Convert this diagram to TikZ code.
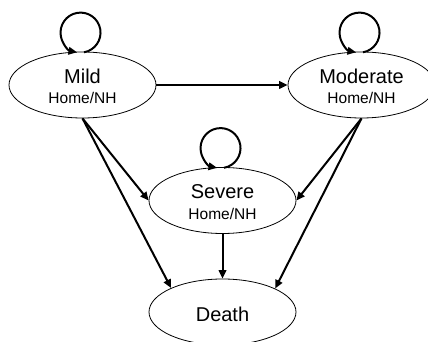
\documentclass[tikz,border=0pt]{standalone}
\usepackage{fontspec}
\setmainfont{Liberation Sans}
\usetikzlibrary{arrows.meta,shapes.geometric}
\newcommand{\mainsz}{\fontsize{20}{24}\selectfont}
\newcommand{\subsz}{\fontsize{15.5}{19}\selectfont}
\begin{document}
\begin{tikzpicture}[x=1pt,y=1pt,
  state/.style={ellipse,draw,line width=0.8pt,minimum width=147pt,minimum height=66pt,inner sep=0pt},
  title/.style={font=\mainsz,inner sep=0pt},
  place/.style={font=\subsz,inner sep=0pt},
  arr/.style={line width=2pt,-{Triangle[length=8.5pt,width=7.5pt]}},
  selfloop/.style={line width=2pt,-{Triangle[length=8.5pt,width=7.5pt]}}]
\useasboundingbox (0,0) rectangle (428,342);
\node[state] (mild) at (82.5,257) {};
\node[state] (moderate) at (361.5,257) {};
\node[state] (severe) at (222.5,141.5) {};
\node[state] (death) at (222.5,30) {};
\node[title,anchor=base] (mildt) at ([yshift=1.5pt]mild.center) {Mild};
\node[place,anchor=base] (mildh) at ([yshift=-19pt]mild.center) {Home/NH};
\node[title,anchor=base] (modt) at ([yshift=1.5pt]moderate.center) {Moderate};
\node[place,anchor=base] (modh) at ([yshift=-19pt]moderate.center) {Home/NH};
\node[title,anchor=base] (sevt) at ([yshift=1.5pt]severe.center) {Severe};
\node[place,anchor=base] (sevh) at ([yshift=-19pt]severe.center) {Home/NH};
\node[title,anchor=base] (deatht) at ([yshift=-9.5pt]death.center) {Death};
\draw[arr] (mild.east) -- (moderate.west);
\draw[arr] (mild.south) -- (severe.west);
\draw[arr] (mild.south) -- (death.155);
\draw[arr] (moderate.south) -- (severe.east);
\draw[arr] (moderate.south) -- (death.24);
\draw[arr] (severe.south) -- (death.north);
\draw[selfloop] (mild.north) ++(1.5,-0.7) arc[start angle=-80,end angle=260,radius=20];
\draw[selfloop] (moderate.north) ++(1.5,-0.7) arc[start angle=-80,end angle=260,radius=20];
\draw[selfloop] (severe.north) ++(1.5,-0.7) arc[start angle=-80,end angle=260,radius=20];
\end{tikzpicture}
\end{document}
